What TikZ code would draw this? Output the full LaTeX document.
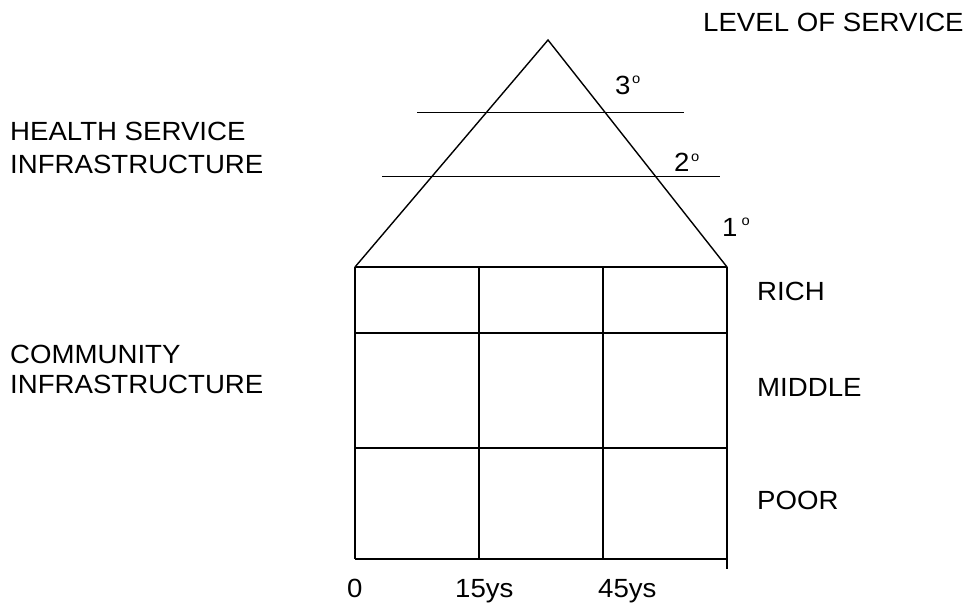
\documentclass[tikz,border=0pt]{standalone}
\usepackage{fontspec}
\setmainfont{Liberation Sans}[FakeStretch=1.05]
\begin{document}
\begin{tikzpicture}[x=1pt,y=-1pt,
  lbl/.style={anchor=base west,inner sep=0pt,font=\fontsize{26.3}{30}\selectfont},
  grid/.style={line width=1.9pt},
  side/.style={line width=1.4pt}]
\useasboundingbox (0,0) rectangle (967,611);
% key points
\coordinate (apex) at (548,40);
\coordinate (bl) at (355,267);
\coordinate (br) at (727,267);
\coordinate (c1t) at (479,267);
\coordinate (c2t) at (603,267);
\coordinate (c1b) at (479,559);
\coordinate (c2b) at (603,559);
\coordinate (llb) at (355,559);
\coordinate (rrb) at (727,559);
\coordinate (rrx) at (727,569);
\coordinate (r1l) at (355,333);
\coordinate (r1r) at (727,333);
\coordinate (r2l) at (355,448);
\coordinate (r2r) at (727,448);
\coordinate (t3l) at (417,112.5);
\coordinate (t3r) at (684,112.5);
\coordinate (t2l) at (382,176.5);
\coordinate (t2r) at (720,176.5);
% triangle
\draw[side] (bl) -- (apex) -- (br);
\draw[grid] (t3l) -- (t3r);
\draw[grid] (t2l) -- (t2r);
% grid
\draw[grid] (bl) -- (br);
\draw[grid] (r1l) -- (r1r);
\draw[grid] (r2l) -- (r2r);
\draw[grid] (llb) -- (rrb);
\draw[grid] (bl) -- (llb);
\draw[grid] (c1t) -- (c1b);
\draw[grid] (c2t) -- (c2b);
\draw[grid] (br) -- (rrx);
% labels
\node[lbl] (los) at (703,31.7) {LEVEL OF SERVICE};
\node[lbl] (hs1) at (10,140) {HEALTH SERVICE};
\node[lbl] (hs2) at (10,173) {INFRASTRUCTURE};
\node[lbl] (ci1) at (10,363.3) {COMMUNITY};
\node[lbl] (ci2) at (10,393.3) {INFRASTRUCTURE};
\node[lbl] (rich) at (757,300.7) {RICH};
\node[lbl] (mid) at (757,396) {MIDDLE};
\node[lbl] (poor) at (757,509.3) {POOR};
\node[lbl] (x0) at (347,597) {0};
\node[lbl] (x15) at (455,597) {15ys};
\node[lbl] (x45) at (598,597) {45ys};
\node[lbl] (d3) at (615,94.3) {3\kern1.5pt\raisebox{10.5pt}{\fontsize{14}{14}\selectfont o}};
\node[lbl] (d2) at (674,171.7) {2\kern1.5pt\raisebox{10.5pt}{\fontsize{14}{14}\selectfont o}};
\node[lbl] (d1) at (722,236) {1\kern4pt\raisebox{10.5pt}{\fontsize{14}{14}\selectfont o}};
\end{tikzpicture}
\end{document}
